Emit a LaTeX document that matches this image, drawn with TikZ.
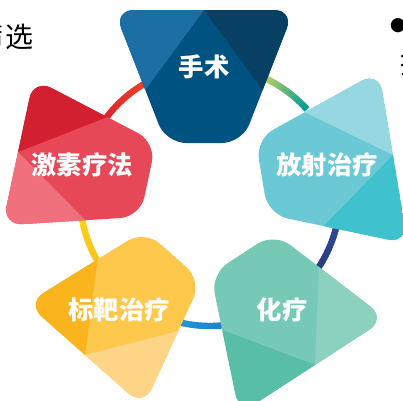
\documentclass[tikz,border=0pt]{standalone}
\usepackage{fontspec}
\usetikzlibrary{calc}
\newfontfamily\cjk{Noto Sans CJK SC}
\newfontfamily\dejavu{DejaVu Sans}
\definecolor{ssL}{RGB}{28,111,164}\definecolor{ssM}{RGB}{0,82,128}\definecolor{ssD}{RGB}{8,64,100}
\definecolor{fsL}{RGB}{150,215,225}\definecolor{fsM}{RGB}{106,201,212}\definecolor{fsD}{RGB}{64,194,206}
\definecolor{hlL}{RGB}{140,208,192}\definecolor{hlM}{RGB}{118,201,180}\definecolor{hlD}{RGB}{88,190,165}
\definecolor{bbL}{RGB}{254,213,135}\definecolor{bbM}{RGB}{253,200,75}\definecolor{bbD}{RGB}{250,180,30}
\definecolor{jsL}{RGB}{240,112,125}\definecolor{jsM}{RGB}{230,72,88}\definecolor{jsD}{RGB}{210,32,48}
\definecolor{rTealA}{RGB}{0,158,150}\definecolor{rTealB}{RGB}{195,205,95}
\definecolor{rNavyA}{RGB}{38,56,125}\definecolor{rNavyB}{RGB}{50,80,150}
\definecolor{rBlueA}{RGB}{25,120,195}\definecolor{rBlueB}{RGB}{40,155,220}
\definecolor{rYelA}{RGB}{250,215,20}\definecolor{rYelB}{RGB}{250,190,30}
\definecolor{rRedA}{RGB}{240,75,40}\definecolor{rRedB}{RGB}{220,30,45}
% #1 outer point E, #2 rotation, #3 half wide edge (light side), #4 half wide edge (dark side),
% #5 light, #6 middle, #7 dark colour
\newcommand\petal[7]{%
  \begin{scope}[shift={(#1)},rotate=#2]
    \coordinate (pE) at (0,0);
    \coordinate (pA) at (-#3,0);
    \coordinate (pD) at (#4,0);
    \coordinate (pNL) at (-38,133);
    \coordinate (pND) at (38,133);
    \coordinate (pL) at ($(pA)!0.6015!(pNL)$);
    \coordinate (pR) at ($(pD)!0.6015!(pND)$);
    \begin{scope}
      \clip[rounded corners=15pt] (pA) -- (pD) -- (pND) -- (pNL) -- cycle;
      \fill[#6] (-130,-30) rectangle (130,150);
      \fill[#5] (pE) -- ($(pE)!2.5!(pL)$) -- ($(pE)!2.5!(pA)$) -- cycle;
      \fill[#7] (pE) -- ($(pE)!2.5!(pR)$) -- ($(pE)!2.5!(pD)$) -- cycle;
    \end{scope}
  \end{scope}}
% gradient arc: start angle, end angle, colour at start, colour at end
\newcommand\ringarc[4]{%
  \foreach \i in {0,...,23}{%
    \pgfmathsetmacro\ta{#1+(#2-#1)*\i/24}%
    \pgfmathsetmacro\tb{#1+(#2-#1)*(\i+1)/24+0.3}%
    \pgfmathsetmacro\pc{100-100*\i/23}%
    \draw[ringline,draw={#3!\pc!#4}] (210,196) ++(\ta:130) arc[start angle=\ta, end angle=\tb, radius=130];
  }}
\begin{document}
\begin{tikzpicture}[x=0.75pt,y=-0.75pt,
  ringline/.style={line width=4.8pt},
  lbl/.style={font=\cjk\bfseries\fontsize{19}{19}\selectfont,text=white,inner sep=0pt},
  sidetext/.style={font=\cjk\fontsize{21}{21}\selectfont,text=black,inner sep=0pt}]
\useasboundingbox (0,0) rectangle (403,400);
% ring (angles measured clockwise from east on screen)
\ringarc{-66}{-42}{rTealB}{rTealA}
\ringarc{5}{40}{rNavyB}{rNavyA}
\ringarc{75}{110}{rBlueA}{rBlueB}
\ringarc{145}{175}{rYelB}{rYelA}
\ringarc{210}{250}{rRedB}{rRedA}
% petals
\petal{204,10}{0}{90}{90}{ssL}{ssM}{ssD}
\petal{393,155}{-80.5}{85}{90}{fsL}{fsM}{fsD}
\petal{315,365}{-147}{85}{90}{hlL}{hlM}{hlD}
\petal{85,355}{138.5}{78}{78}{bbL}{bbM}{bbD}
\petal{18,152}{78}{75}{75}{jsL}{jsM}{jsD}
% labels
\node[lbl] (ss) at (204,67) {手术};
\node[lbl] (fs) at (327,165) {放射治疗};
\node[lbl] (hl) at (282,310) {化疗};
\node[lbl] (bb) at (119,310) {标靶治疗};
\node[lbl] (js) at (82,165) {激素疗法};
% cut-off texts at the edges
\node[sidetext,anchor=east] (sx) at (34,37) {筛\kern1.5pt选};
\node[font=\dejavu\fontsize{14}{14}\selectfont,inner sep=0pt] (bul) at (398,26) {●};
\node[sidetext,anchor=west] (tx) at (400,63) {提};
\end{tikzpicture}
\end{document}
